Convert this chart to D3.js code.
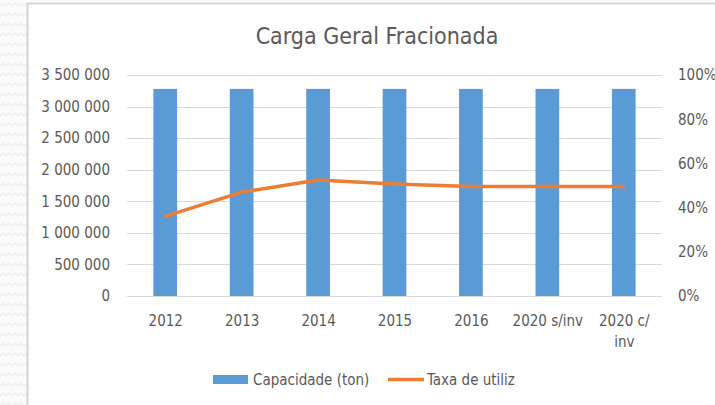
<!DOCTYPE html>
<html><head><meta charset="utf-8">
<script src="https://cdn.jsdelivr.net/npm/d3@7"></script>
<style>
html,body{margin:0;padding:0;background:#fff;}
svg{display:block;}
</style></head>
<body>
<svg id="c" width="715" height="405"></svg>
<script>
const categories = ["2012","2013","2014","2015","2016","2020 s/inv","2020 c/ inv"];
const capacidade = [3280000,3280000,3280000,3280000,3280000,3280000,3280000];
const taxa = [0.36,0.47,0.525,0.507,0.495,0.495,0.495];
const leftTicks = [0,500000,1000000,1500000,2000000,2500000,3000000,3500000];
const rightTicks = [0,0.2,0.4,0.6,0.8,1.0];
const title = "Carga Geral Fracionada";
const seriesNames = ["Capacidade (ton)","Taxa de utiliz"];

const svg = d3.select("#c");
const font = "'Liberation Sans Narrow', 'DejaVu Sans Condensed', sans-serif";
const txtColor = "#595959";

// background texture
const defs = svg.append("defs");
const pat = defs.append("pattern").attr("id","zz").attr("width",12).attr("height",10).attr("patternUnits","userSpaceOnUse");
pat.append("rect").attr("width",12).attr("height",10).attr("fill","#fbfbfb");
pat.append("path").attr("d","M0,6 L3,3 L6,6 L9,3 L12,6").attr("fill","none").attr("stroke","#efefef").attr("stroke-width",1.5);
svg.append("rect").attr("width",715).attr("height",405).attr("fill","url(#zz)");
// card
svg.append("rect").attr("x",27.5).attr("y",3.5).attr("width",700).attr("height",410).attr("fill","#fff").attr("stroke","#d4d4d4").attr("stroke-width",2);

const x0 = 127, x1 = 662, yTop = 75, yBot = 296;
const x = d3.scaleBand().domain(categories).range([x0,x1]).paddingInner(0.69).paddingOuter(0.345);
const xc = d3.scalePoint().domain(categories).range([x0,x1]).padding(0.5);
const yL = d3.scaleLinear().domain([0,3500000]).range([yBot,yTop]);
const yR = d3.scaleLinear().domain([0,1]).range([yBot,yTop]);

// gridlines
svg.append("g").selectAll("line").data(leftTicks).join("line")
  .attr("x1",x0).attr("x2",x1).attr("y1",d=>Math.round(yL(d))+0.5).attr("y2",d=>Math.round(yL(d))+0.5)
  .attr("stroke","#d9d9d9").attr("stroke-width",1);

// left axis
const fmt = d => d3.format(",")(d).replace(/,/g," ");
const gl = svg.append("g").attr("transform",`translate(${x0},0)`)
  .call(d3.axisLeft(yL).tickValues(leftTicks).tickFormat(fmt).tickSize(0).tickPadding(17));
gl.select(".domain").remove();
gl.selectAll("text").attr("font-family",font).attr("font-size",15).attr("fill",txtColor);

// right axis
const gr = svg.append("g").attr("transform",`translate(${x1},0)`)
  .call(d3.axisRight(yR).tickValues(rightTicks).tickFormat(d3.format(".0%")).tickSize(0).tickPadding(16));
gr.select(".domain").remove();
gr.selectAll("text").attr("font-family",font).attr("font-size",15).attr("fill",txtColor);

// bars
svg.append("g").selectAll("rect").data(categories).join("rect")
  .attr("x",d=>x(d)).attr("width",x.bandwidth())
  .attr("y",(d,i)=>yL(capacidade[i])).attr("height",(d,i)=>yBot-yL(capacidade[i]))
  .attr("fill","#5b9bd5");

// x axis labels
const gx = svg.append("g").attr("transform",`translate(0,${yBot})`)
  .call(d3.axisBottom(xc).tickSize(0).tickPadding(19));
gx.select(".domain").remove();
gx.selectAll("text").attr("font-family",font).attr("font-size",15).attr("fill",txtColor)
  .each(function(d){
    const t = d3.select(this);
    if (d === "2020 c/ inv") {
      t.text(null);
      t.append("tspan").attr("x",0).attr("dy","0.71em").text("2020 c/");
      t.append("tspan").attr("x",0).attr("dy","1.45em").text("inv");
      t.attr("dy",null);
    }
  });

// line
svg.append("path").datum(taxa)
  .attr("d",d3.line().x((d,i)=>xc(categories[i])).y(d=>yR(d)))
  .attr("fill","none").attr("stroke","#ed7d31").attr("stroke-width",3.5).attr("stroke-linejoin","round").attr("stroke-linecap","round");

// title
svg.append("text").attr("x",377).attr("y",44).attr("text-anchor","middle")
  .attr("font-family",font).attr("font-size",23).attr("fill",txtColor).text(title);

// legend
const lg = svg.append("g");
lg.append("rect").attr("x",213).attr("y",375).attr("width",35).attr("height",9).attr("fill","#5b9bd5");
lg.append("text").attr("x",253).attr("y",385).attr("font-family",font).attr("font-size",15).attr("fill",txtColor).text(seriesNames[0]);
lg.append("line").attr("x1",388).attr("x2",424).attr("y1",379.5).attr("y2",379.5).attr("stroke","#ed7d31").attr("stroke-width",3.5);
lg.append("text").attr("x",427).attr("y",385).attr("font-family",font).attr("font-size",15).attr("fill",txtColor).text(seriesNames[1]);
</script>
</body></html>
